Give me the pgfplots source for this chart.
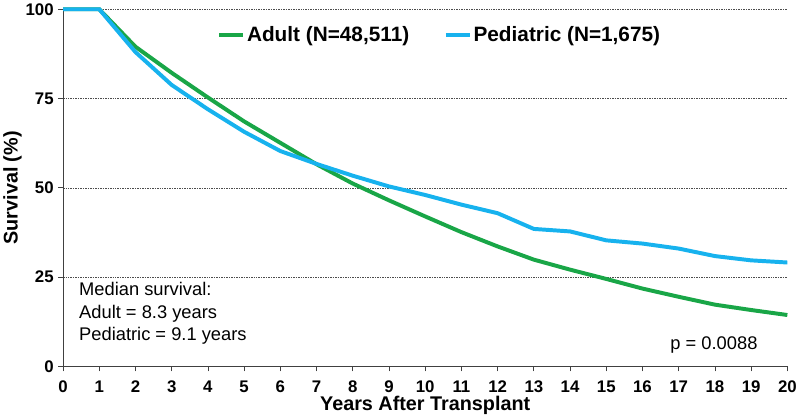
\documentclass[border=0pt]{standalone}
\usepackage{fontspec}
\setmainfont{Liberation Sans}
\usepackage{pgfplots}
\pgfplotsset{compat=1.18}
\definecolor{adult}{HTML}{19A647}
\definecolor{pedi}{HTML}{17B2EE}

\begin{document}
\begin{tikzpicture}
\begin{axis}[
  scale only axis, width=732pt, height=361pt,
  xmin=0, xmax=20, ymin=0, ymax=100,
  xtick={0,1,...,20}, ytick={0,25,50,75,100},
  axis lines*=left, axis line style={black!75, line width=0.8pt},
  tick style={black!75, line width=0.8pt}, tick align=outside,
  major tick length=5pt,
  ymajorgrids, grid style={black!70, dash pattern=on 1.5pt off 1pt, line width=0.6pt},
  /pgf/number format/assume math mode=true,
  tick label style={font=\fontsize{17}{17}\selectfont\bfseries},
  xticklabel style={yshift=-6pt},
  yticklabel style={xshift=-1pt},
  xlabel={Years After Transplant}, ylabel={Survival (\%)},
  xlabel style={font=\fontsize{20}{20}\selectfont\bfseries, yshift=3pt},
  ylabel style={font=\fontsize{20}{20}\selectfont\bfseries},
  ylabel shift=-3pt,
  clip=false,
  legend columns=2,
  legend style={at={(0.52,0.928)}, anchor=center, draw=none, fill=none,
    font=\fontsize{21}{21}\selectfont\bfseries, inner xsep=0pt,
    /tikz/every even column/.append style={column sep=33pt}},
  legend cell align=left,
  legend image code/.code={\draw[#1] (0pt,0pt) -- (24pt,0pt);},
]
\addplot[adult, line width=4pt] coordinates
  {(0,100) (1,100) (2,89.5) (3,82.2) (4,75.3) (5,68.6) (6,62.6) (7,56.6)
   (8,51.2) (9,46.5) (10,42) (11,37.6) (12,33.6) (13,29.9) (14,27.1)
   (15,24.5) (16,21.8) (17,19.5) (18,17.3) (19,15.8) (20,14.4)};
\addplot[pedi, line width=4pt] coordinates
  {(0,100) (1,100) (2,88) (3,78.8) (4,72) (5,65.7) (6,60.3) (7,56.7)
   (8,53.4) (9,50.4) (10,48) (11,45.3) (12,42.9) (13,38.5) (14,37.8)
   (15,35.3) (16,34.4) (17,33) (18,30.9) (19,29.7) (20,29.1)};
\legend{{Adult (N=48,511)}, {Pediatric (N=1,675)}}
\node[anchor=north west, align=left, font=\fontsize{18.5}{22.5}\selectfont,
  inner sep=0pt] at (axis cs:0.44,23.5)
  {Median survival:\\Adult = 8.3 years\\Pediatric = 9.1 years};
\node[anchor=east, font=\fontsize{18.5}{22}\selectfont, inner sep=0pt]
  at (axis cs:19.18,6.1) {p = 0.0088};
\end{axis}
\end{tikzpicture}
\end{document}
